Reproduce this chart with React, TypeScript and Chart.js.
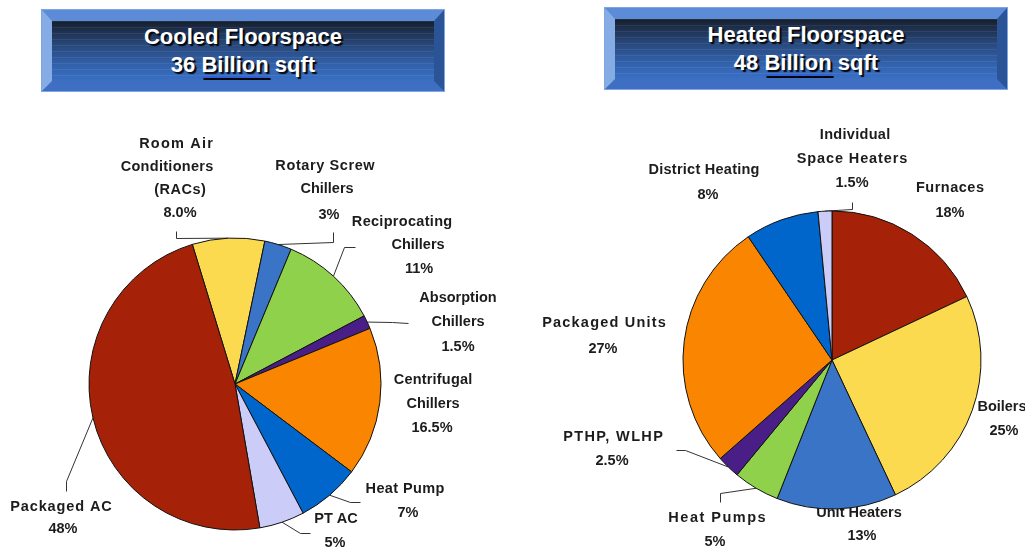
import React, { useEffect, useRef } from 'react';
import { Chart, registerables } from 'chart.js';

Chart.register(...registerables);

// ---------- DATA ----------
const coolTitle = ['Cooled Floorspace', '36 Billion sqft'];
const coolCategories = [
  'Room Air Conditioners (RACs)',
  'Rotary Screw Chillers',
  'Reciprocating Chillers',
  'Absorption Chillers',
  'Centrifugal Chillers',
  'Heat Pump',
  'PT AC',
  'Packaged AC',
];
const coolValues = [8, 3, 11, 1.5, 16.5, 7, 5, 48];
const coolPercentLabels = ['8.0%', '3%', '11%', '1.5%', '16.5%', '7%', '5%', '48%'];
const coolLabelLines = [
  ['Room Air', 'Conditioners', '(RACs)'],
  ['Rotary Screw', 'Chillers'],
  ['Reciprocating', 'Chillers'],
  ['Absorption', 'Chillers'],
  ['Centrifugal', 'Chillers'],
  ['Heat Pump'],
  ['PT AC'],
  ['Packaged AC'],
];

const heatTitle = ['Heated Floorspace', '48 Billion sqft'];
const heatCategories = [
  'Furnaces',
  'Boilers',
  'Unit Heaters',
  'Heat Pumps',
  'PTHP, WLHP',
  'Packaged Units',
  'District Heating',
  'Individual Space Heaters',
];
const heatValues = [18, 25, 13, 5, 2.5, 27, 8, 1.5];
const heatPercentLabels = ['18%', '25%', '13%', '5%', '2.5%', '27%', '8%', '1.5%'];
const heatLabelLines = [
  ['Furnaces'],
  ['Boilers'],
  ['Unit Heaters'],
  ['Heat Pumps'],
  ['PTHP, WLHP'],
  ['Packaged Units'],
  ['District Heating'],
  ['Individual', 'Space Heaters'],
];

// ---------- STYLES ----------
const RED = '#A52209';
const YELLOW = '#FCDA4F';
const MIDBLUE = '#3A74C6';
const GREEN = '#8FD14A';
const PURPLE = '#4A1E87';
const ORANGE = '#F98500';
const BLUE = '#0066CC';
const LAVENDER = '#CCCCF8';

const coolColors = [YELLOW, MIDBLUE, GREEN, PURPLE, ORANGE, BLUE, LAVENDER, RED];
const heatColors = [RED, YELLOW, MIDBLUE, GREEN, PURPLE, ORANGE, BLUE, LAVENDER];

type Layout = { lines: number[][]; leader?: number[][] };

// label line positions [x, y, letterSpacing]; leader bends (start is computed from the arc)
const coolLayout: Layout[] = [
  { lines: [[176, 144, 1.2], [167, 167, 0.3], [180, 190, 0.5], [180, 213]], leader: [[176, 238], [176, 231]] },
  { lines: [[325, 166, 0.6], [327, 189], [329, 215]], leader: [[333, 242], [333, 232]] },
  { lines: [[402, 222, 0.3], [418, 245], [419, 269]], leader: [[344, 247], [355, 247]] },
  { lines: [[458, 298], [458, 322], [458, 347]], leader: [[392, 322], [408, 323]] },
  { lines: [[433, 380, 0.2], [433, 404], [432, 428]] },
  { lines: [[405, 489, 0.4], [408, 513]], leader: [[350, 502], [360, 502]] },
  { lines: [[336, 519], [335, 543]], leader: [[300, 533], [310, 533]] },
  { lines: [[61, 507, 0.9], [63, 529]], leader: [[66, 481], [66, 491]] },
];

const heatLayout: Layout[] = [
  { lines: [[950, 188, 0.5], [950, 213]] },
  { lines: [[1002, 407], [1004, 431]] },
  { lines: [[859, 513], [862, 536]] },
  { lines: [[717, 518, 1.5], [715, 542]], leader: [[720, 493], [720, 502]] },
  { lines: [[613, 437, 1.35], [612, 461]], leader: [[685, 450], [676, 450]] },
  { lines: [[604, 323, 1.2], [603, 349]] },
  { lines: [[704, 170, 0.25], [708, 195]] },
  { lines: [[855, 135, 0.3], [852, 159, 0.9], [852, 183]], leader: [[852, 209], [852, 202]] },
];

const W = 1025;
const H = 548;

function makeLabelPlugin(texts: string[][], pcts: string[], layout: Layout[]) {
  return {
    id: 'outerLabels',
    beforeDatasetsDraw(chart: any) {
      const ctx: CanvasRenderingContext2D = chart.ctx;
      const meta = chart.getDatasetMeta(0);
      ctx.save();
      ctx.font = 'bold 14.5px "Liberation Sans", Arial, sans-serif';
      ctx.fillStyle = '#1c1c1c';
      ctx.textAlign = 'center';
      ctx.textBaseline = 'middle';
      texts.forEach((lines, i) => {
        const lay = layout[i];
        const all = [...lines, pcts[i]];
        all.forEach((t, j) => {
          const p = lay.lines[j];
          if (!p) return;
          const ls = p[2] || 0;
          (ctx as any).letterSpacing = ls + 'px';
          ctx.fillText(t, p[0] + ls / 2, p[1]);
        });
        (ctx as any).letterSpacing = '0px';
        if (lay.leader) {
          const arc = meta.data[i];
          const { x, y, startAngle, endAngle, outerRadius } = arc.getProps(
            ['x', 'y', 'startAngle', 'endAngle', 'outerRadius'],
            true
          );
          const mid = (startAngle + endAngle) / 2;
          const sx = x + Math.cos(mid) * outerRadius;
          const sy = y + Math.sin(mid) * outerRadius;
          ctx.beginPath();
          ctx.strokeStyle = '#333';
          ctx.lineWidth = 1;
          ctx.moveTo(sx, sy);
          lay.leader.forEach((pt) => ctx.lineTo(pt[0] + 0.5, pt[1] + 0.5));
          ctx.stroke();
        }
      });
      ctx.restore();
    },
  };
}

type PieProps = {
  categories: string[];
  values: number[];
  colors: string[];
  texts: string[][];
  pcts: string[];
  layout: Layout[];
  cx: number;
  cy: number;
  r: number;
  rotation: number;
};

function Pie(props: PieProps) {
  const ref = useRef<HTMLCanvasElement | null>(null);
  useEffect(() => {
    if (!ref.current) return;
    const { cx, cy, r } = props;
    const chart = new Chart(ref.current, {
      type: 'pie',
      data: {
        labels: props.categories,
        datasets: [
          {
            data: props.values,
            backgroundColor: props.colors,
            borderColor: '#111',
            borderWidth: 1,
          },
        ],
      },
      options: {
        responsive: false,
        animation: false,
        rotation: props.rotation,
        radius: r,
        layout: {
          padding: {
            left: cx - r,
            right: W - (cx + r),
            top: cy - r,
            bottom: H - (cy + r),
          },
        },
        plugins: {
          legend: { display: false },
          tooltip: { enabled: false },
        },
        events: [],
      },
      plugins: [makeLabelPlugin(props.texts, props.pcts, props.layout)],
    });
    return () => chart.destroy();
  }, []);
  return (
    <canvas
      ref={ref}
      width={W}
      height={H}
      style={{ position: 'absolute', left: 0, top: 0, width: W, height: H }}
    />
  );
}

function Banner({ left, top, lines }: { left: number; top: number; lines: string[] }) {
  const second = lines[1];
  const idx = second.indexOf('Billion');
  return (
    <div
      style={{
        position: 'absolute',
        left,
        top,
        width: 402,
        height: 81,
        boxSizing: 'border-box',
        borderStyle: 'solid',
        borderWidth: '11px 10px 10px 10px',
        borderTopColor: '#5C8CD8',
        borderLeftColor: '#86ACE6',
        borderRightColor: '#2A5496',
        borderBottomColor: '#3E6FC2',
        outline: '1px solid #7FA5E2',
      }}
    >
      <div
        style={{
          position: 'absolute',
          inset: 0,
          background:
            'repeating-linear-gradient(to bottom, rgba(255,255,255,0.07) 0px, rgba(255,255,255,0.07) 1px, rgba(0,0,0,0) 1px, rgba(0,0,0,0) 6px), linear-gradient(to bottom, #161e2c 0%, #1f3252 18%, #2a4c82 45%, #3262ad 75%, #3a6fc3 100%)',
          color: '#fff',
          fontFamily: '"Liberation Sans", Arial, sans-serif',
          fontWeight: 'bold',
          fontSize: 22,
          lineHeight: '28px',
          textAlign: 'center',
          paddingTop: 2,
          textShadow: '2px 2px 1px #05070c',
        }}
      >
        <div>{lines[0]}</div>
        <div>
          {idx >= 0 ? (
            <>
              {second.slice(0, idx)}
              <span
                style={{
                  textDecorationLine: 'underline',
                  textDecorationColor: '#2f62d6',
                  textDecorationThickness: '2px',
                  textUnderlineOffset: '4px',
                }}
              >
                Billion
              </span>
              {second.slice(idx + 7)}
            </>
          ) : (
            second
          )}
        </div>
      </div>
    </div>
  );
}

export default function App() {
  return (
    <div
      style={{
        position: 'absolute',
        left: 0,
        top: 0,
        width: W,
        height: H,
        background: '#fff',
        overflow: 'hidden',
      }}
    >
      <Banner left={42} top={10} lines={coolTitle} />
      <Banner left={605} top={8} lines={heatTitle} />
      <Pie
        categories={coolCategories}
        values={coolValues}
        colors={coolColors}
        texts={coolLabelLines}
        pcts={coolPercentLabels}
        layout={coolLayout}
        cx={235}
        cy={384}
        r={146}
        rotation={-17}
      />
      <Pie
        categories={heatCategories}
        values={heatValues}
        colors={heatColors}
        texts={heatLabelLines}
        pcts={heatPercentLabels}
        layout={heatLayout}
        cx={832}
        cy={360}
        r={149}
        rotation={0}
      />
    </div>
  );
}
